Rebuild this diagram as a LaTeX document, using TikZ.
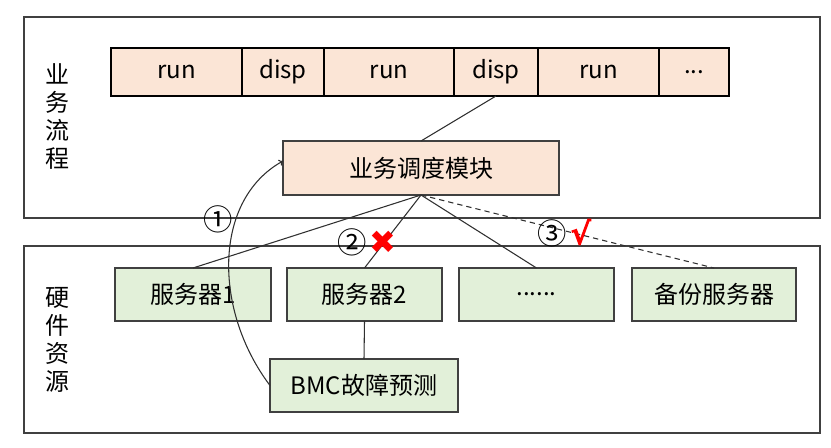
\documentclass[tikz,border=0pt]{standalone}
\usepackage{fontspec}
\setmainfont{Noto Sans CJK SC}
\newfontfamily\symfont{DejaVu Sans}
\newfontfamily\symheavy[FakeBold=4]{DejaVu Sans}
\usetikzlibrary{arrows.meta}
\definecolor{peach}{HTML}{FBE5D6}
\definecolor{lgreen}{HTML}{E2F0D9}
\definecolor{edgec}{HTML}{404040}
\definecolor{lnc}{HTML}{303030}
\begin{document}
\begin{tikzpicture}[x=0.75pt,y=-0.75pt,
  every node/.style={inner sep=0pt,outer sep=0pt},
  txt/.style={font=\fontsize{18}{21}\selectfont},
  cell/.style={draw=black,line width=0.8pt,fill=peach,txt,minimum height={48*0.75pt}},
  pbox/.style={draw=edgec,line width=1pt,fill=peach,txt},
  gbox/.style={draw=edgec,line width=1pt,fill=lgreen,txt,minimum height={53*0.75pt}},
  frame/.style={draw=edgec,line width=1pt},
  conn/.style={draw=lnc,line width=0.8pt},
  circnum/.style={font=\fontsize{22}{22}\selectfont},
  redmark/.style={text=red}
]
\useasboundingbox (0,0) rectangle (831,448);
% outer frames
\node[frame,minimum width={796*0.75pt},minimum height={201*0.75pt}] (topframe) at (422,117.5) {};
\node[frame,minimum width={796*0.75pt},minimum height={187*0.75pt}] (botframe) at (422,339.5) {};
% side labels
\node[font=\fontsize{18}{21}\selectfont,align=center] (lab1) at (57,116.5) {业\\务\\流\\程};
\node[font=\fontsize{18}{21}\selectfont,align=center] (lab2) at (57,340) {硬\\件\\资\\源};
% timeline bar
\node[cell,minimum width={131*0.75pt}] (r1) at (176.5,72) {run};
\node[cell,minimum width={82*0.75pt}] (d1) at (283,72) {disp};
\node[cell,minimum width={130*0.75pt}] (r2) at (389,72) {run};
\node[cell,minimum width={84*0.75pt}] (d2) at (496,72) {disp};
\node[cell,minimum width={121*0.75pt}] (r3) at (598.5,72) {run};
\node[cell,minimum width={70*0.75pt}] (dd) at (694,72) {...};
% scheduler module
\node[pbox,minimum width={276*0.75pt},minimum height={54*0.75pt}] (mod) at (421,168) {业务调度模块};
% servers
\node[gbox,minimum width={156*0.75pt}] (s1) at (193,294.5) {服务器1};
\node[gbox,minimum width={155*0.75pt}] (s2) at (364.5,294.5) {服务器2};
\node[gbox,minimum width={155*0.75pt}] (s3) at (536.5,294.5) {......};
\node[gbox,minimum width={164*0.75pt}] (s4) at (714,294.5) {备份服务器};
\node[gbox,minimum width={188*0.75pt}] (bmc) at (364,385.5) {BMC故障预测};
% connectors
\draw[conn] (mod.north) -- (d2.south);
\draw[conn] (mod.south) -- (s1.north);
\draw[conn] (mod.south) -- (s2.north);
\draw[conn] (mod.south) -- (s3.north);
\draw[conn,dashed,dash pattern=on 4pt off 3pt] (mod.south) -- (s4.north);
\draw[conn] (s2.south) -- (bmc.north);
\coordinate (modin) at ([yshift=5.25pt]mod.west);
\draw[conn,-{To[length=3pt,width=5pt]}] (bmc.west) .. controls (213,310) and (213,200) .. (modin);
% marks
\node[circnum] (c1) at (218,219) {①};
\node[circnum] (c2) at (352,242) {②};
\node[circnum] (c3) at (552,233) {③};
\node[redmark,font=\symfont\fontsize{24}{24}\selectfont] (xm) at (383,242) {✖};
\node[redmark,font=\symheavy\fontsize{23}{23}\selectfont] (ok) at (581,232) {√};
\end{tikzpicture}
\end{document}
